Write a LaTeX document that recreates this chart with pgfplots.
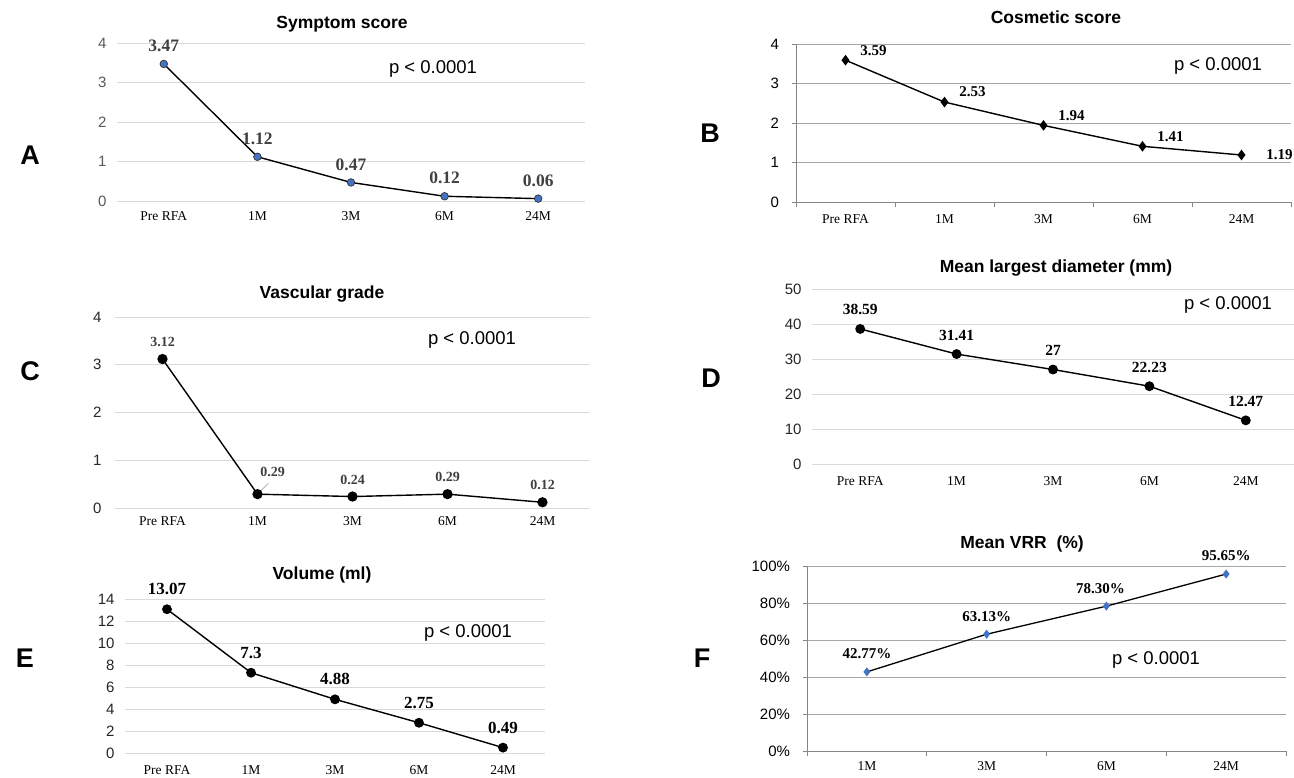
\documentclass[border=0pt]{standalone}
\usepackage{fontspec}
\setmainfont{Liberation Sans}
\newfontfamily\tnr{Liberation Serif}
\usepackage{pgfplots}
\pgfplotsset{compat=1.18}
\definecolor{lgrid}{HTML}{D9D9D9}
\definecolor{dgrid}{HTML}{A6A6A6}
\definecolor{axgray}{HTML}{868686}
\definecolor{mblue}{HTML}{4472C4}
\definecolor{dkgray}{HTML}{404040}
\definecolor{tgray}{HTML}{595959}
\newcommand{\fs}[1]{\fontsize{#1}{#1}\selectfont}
\pgfplotsset{
  base/.style={scale only axis, clip=false, ymin=0, ymajorgrids,
    /pgf/number format/assume math mode=true,
    yticklabel style={font=\fs{15}, xshift=-7pt},
    xticklabel style={font=\tnr\fs{13.5}},
  },
  light/.style={base, axis line style={draw=none}, major tick length=0pt,
    grid style={lgrid, line width=1pt},
    xmin=-0.5, xmax=4.5, xtick={0,...,4}, xticklabels={Pre RFA,1M,3M,6M,24M}},
  dark/.style={base, axis x line*=bottom, axis y line*=left,
    axis line style={axgray, line width=0.8pt, -},
    grid style={dgrid, line width=0.8pt},
    tick align=outside, major tick length=4.5pt,
    tick style={axgray, line width=0.8pt},
    xticklabels={}, extra x tick style={major tick length=0pt, grid=none}},
  lab/.style={nodes near coords, point meta=explicit symbolic,
    every node near coord/.style={font=\tnr\bfseries\fs{#1}, anchor=center, inner sep=0pt}},
  ln/.style={line width=1.4pt, black},
}
\begin{document}
\begin{tikzpicture}
\useasboundingbox (0pt,0pt) rectangle (1294pt,-777pt);

% ---------- A ----------
\begin{axis}[light, at={(117pt,-201pt)}, anchor=south west, width=468pt, height=158pt,
  ymax=4, ytick={0,...,4}, yticklabel style={text=tgray}, xticklabel style={yshift=-7.5pt}]
\addplot[ln, mark=*, mark size=3.8pt, mark options={fill=mblue, draw=black!80, line width=0.7pt},
  lab=17.5, every node near coord/.append style={text=dkgray, yshift=18pt}]
  coordinates {(0,3.47)[3.47] (1,1.12)[1.12] (2,0.47)[0.47] (3,0.12)[0.12] (4,0.06)[0.06]};
\end{axis}

% ---------- B ----------
\begin{axis}[dark, at={(796pt,-202pt)}, anchor=south west, width=495pt, height=158pt,
  xmin=-0.5, xmax=4.5, ymax=4, ytick={0,...,4}, yticklabel style={xshift=-2pt},
  xtick={-0.5,0.5,...,4.5}, extra x ticks={0,...,4}, extra x tick labels={Pre RFA,1M,3M,6M,24M},
  extra x tick style={xticklabel style={yshift=-9.5pt}}]
\addplot[ln, mark=diamond*, mark size=4.2pt, mark options={fill=black}]
  coordinates {(0,3.59) (1,2.53) (2,1.94) (3,1.41) (4,1.19)};
\addplot[draw=none, lab=15, every node near coord/.append style={xshift=28pt, yshift=10pt}]
  coordinates {(0,3.59)[3.59] (1,2.53)[2.53] (2,1.94)[1.94] (3,1.41)[1.41]};
\addplot[draw=none, lab=15, every node near coord/.append style={xshift=38pt, yshift=0pt}]
  coordinates {(4,1.19)[1.19]};
\end{axis}

% ---------- C ----------
\begin{axis}[light, at={(115pt,-508pt)}, anchor=south west, width=475pt, height=191pt,
  ymax=4, ytick={0,...,4}, yticklabel style={text=black!85, xshift=-3pt}, xticklabel style={yshift=-5.5pt}]
\addplot[ln, mark=*, mark size=4.4pt, mark options={fill=black}]
  coordinates {(0,3.12) (1,0.29) (2,0.24) (3,0.29) (4,0.12)};
\addplot[draw=none, lab=14, every node near coord/.append style={text=dkgray, yshift=17pt}]
  coordinates {(0,3.12)[3.12] (2,0.24)[0.24] (3,0.29)[0.29] (4,0.12)[0.12]};
\addplot[draw=none, lab=14, every node near coord/.append style={text=dkgray, xshift=15pt, yshift=22pt}]
  coordinates {(1,0.29)[0.29]};
\draw[gray!70, line width=0.6pt] (axis cs:1,0.29) ++(3pt,3pt) -- ++(8pt,8pt);
\end{axis}

% ---------- D ----------
\begin{axis}[light, at={(812pt,-464pt)}, anchor=south west, width=482pt, height=175pt,
  ymax=50, ytick={0,10,...,50}, yticklabel style={text=black!85}, xticklabel style={yshift=-9pt}]
\addplot[ln, mark=*, mark size=4.2pt, mark options={fill=black},
  lab=15.5, every node near coord/.append style={yshift=19pt}]
  coordinates {(0,38.59)[38.59] (1,31.41)[31.41] (2,27)[27] (3,22.23)[22.23] (4,12.47)[12.47]};
\end{axis}

% ---------- E ----------
\begin{axis}[light, at={(125pt,-753pt)}, anchor=south west, width=420pt, height=154pt,
  ymax=14, ytick={0,2,...,14}, yticklabel style={text=black!85}, xticklabel style={yshift=-9.5pt}]
\addplot[ln, mark=*, mark size=4.2pt, mark options={fill=black},
  lab=17, every node near coord/.append style={yshift=20pt}]
  coordinates {(0,13.07)[13.07] (1,7.3)[7.3] (2,4.88)[4.88] (3,2.75)[2.75] (4,0.49)[0.49]};
\end{axis}

% ---------- F ----------
\begin{axis}[dark, at={(807pt,-751pt)}, anchor=south west, width=479pt, height=185pt,
  xmin=-0.5, xmax=3.5, ymax=100, ytick={0,20,...,100}, yticklabel style={xshift=-2pt},
  yticklabels={0\%,20\%,40\%,60\%,80\%,100\%},
  xtick={-0.5,0.5,...,3.5}, extra x ticks={0,...,3}, extra x tick labels={1M,3M,6M,24M},
  extra x tick style={xticklabel style={yshift=-7.5pt}}]
\addplot[ln, line width=1.3pt, mark=diamond*, mark size=3.5pt, mark options={fill=mblue, draw=mblue}]
  coordinates {(0,42.77) (1,63.13) (2,78.30) (3,95.65)};
\addplot[draw=none, lab=15, every node near coord/.append style={yshift=18pt}]
  coordinates {(0,42.77)[42.77\%] (1,63.13)[63.13\%] (3,95.65)[95.65\%]};
\addplot[draw=none, lab=15, every node near coord/.append style={xshift=-6pt, yshift=18pt}]
  coordinates {(2,78.30)[78.30\%]};
\end{axis}

% ---------- titles, p values, letters ----------
\begin{scope}[every node/.style={inner sep=0pt}]
\node[font=\bfseries\fs{17.5}] at (342pt,-24pt) {Symptom score};
\node[font=\bfseries\fs{17.5}] at (1056pt,-17pt) {Cosmetic score};
\node[font=\bfseries\fs{17.5}] at (322pt,-294pt) {Vascular grade};
\node[font=\bfseries\fs{17.5}] at (1056pt,-268pt) {Mean largest diameter (mm)};
\node[font=\bfseries\fs{17.5}] at (322pt,-575pt) {Volume (ml)};
\node[font=\bfseries\fs{17.5}] at (1022pt,-544pt) {Mean VRR\ \ (\%)};
\node[font=\fs{18.5}] at (433pt,-69pt) {p < 0.0001};
\node[font=\fs{18.5}] at (1218pt,-66pt) {p < 0.0001};
\node[font=\fs{18.5}] at (472pt,-340pt) {p < 0.0001};
\node[font=\fs{18.5}] at (1228pt,-305pt) {p < 0.0001};
\node[font=\fs{18.5}] at (468pt,-633pt) {p < 0.0001};
\node[font=\fs{18.5}] at (1156pt,-660pt) {p < 0.0001};
\node[font=\bfseries\fs{27}] at (30pt,-155pt) {A};
\node[font=\bfseries\fs{27}] at (710pt,-133pt) {B};
\node[font=\bfseries\fs{27}] at (30pt,-371pt) {C};
\node[font=\bfseries\fs{27}] at (711pt,-378pt) {D};
\node[font=\bfseries\fs{27}] at (25pt,-658pt) {E};
\node[font=\bfseries\fs{27}] at (702pt,-658pt) {F};
\end{scope}
\end{tikzpicture}
\end{document}
